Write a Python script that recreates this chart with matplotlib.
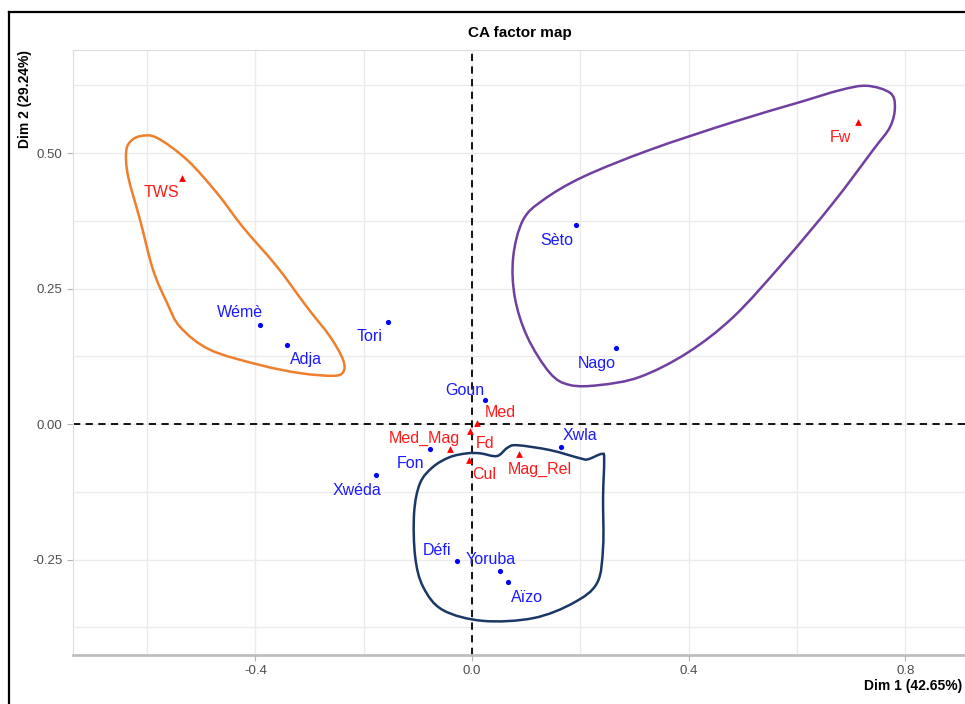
import matplotlib
matplotlib.use("Agg")
import matplotlib.pyplot as plt
import numpy as np
from matplotlib.path import Path
from matplotlib.patches import PathPatch
from matplotlib.lines import Line2D

plt.rcParams['font.family'] = ['Liberation Sans', 'DejaVu Sans']

# row points (blue)
row_names = ["Sèto", "Nago", "Wémè", "Adja", "Tori", "Goun", "Fon", "Xwéda", "Xwla", "Défi", "Yoruba", "Aïzo"]
row_x = [0.192, 0.266, -0.392, -0.342, -0.155, 0.024, -0.078, -0.177, 0.164, -0.028, 0.052, 0.066]
row_y = [0.367, 0.140, 0.183, 0.146, 0.188, 0.044, -0.046, -0.094, -0.042, -0.253, -0.271, -0.292]

# column points (red)
col_names = ["TWS", "Fw", "Med", "Fd", "Med_Mag", "Cul", "Mag_Rel"]
col_x = [-0.536, 0.713, 0.009, -0.004, -0.041, -0.005, 0.087]
col_y = [0.454, 0.557, 0.002, -0.013, -0.046, -0.066, -0.055]

# label offsets (pixels, right / down) as placed by the repel in the original
row_off = [(-19, 15), (-19, 15), (-20, -12), (19, 15), (-19, 14), (-20, -10),
           (-19, 15), (-19, 15), (19, -11), (-20, -11), (-10, -11), (19, 15)]
col_off = [(-20, 15), (-18, 15), (23, -10), (15, 12), (-25, -11), (15, 15), (21, 16)]

# group outlines
orange_x = [-0.613, -0.582, -0.526, -0.471, -0.423, -0.360, -0.305, -0.262, -0.238, -0.238, -0.257,
            -0.318, -0.392, -0.484, -0.539, -0.563, -0.589, -0.613, -0.635, -0.639, -0.632]
orange_y = [0.531, 0.528, 0.487, 0.426, 0.363, 0.290, 0.216, 0.161, 0.118, 0.096, 0.089,
            0.094, 0.109, 0.137, 0.179, 0.223, 0.284, 0.376, 0.456, 0.500, 0.520]
purple_x = [0.729, 0.772, 0.781, 0.772, 0.741, 0.667, 0.574, 0.482, 0.397, 0.310, 0.236, 0.181,
            0.144, 0.102, 0.079, 0.076, 0.094, 0.131, 0.205, 0.329, 0.482, 0.606, 0.680]
purple_y = [0.624, 0.611, 0.585, 0.548, 0.506, 0.408, 0.297, 0.197, 0.131, 0.087, 0.072, 0.072,
            0.094, 0.161, 0.234, 0.308, 0.376, 0.413, 0.456, 0.506, 0.557, 0.594, 0.616]
navy_x = [0.240, 0.214, 0.199, 0.144, 0.083, 0.065, 0.046, 0.015, -0.009, -0.041, -0.072, -0.096,
          -0.107, -0.105, -0.090, -0.054, 0.020, 0.113, 0.187, 0.231, 0.242, 0.242, 0.244]
navy_y = [-0.055, -0.065, -0.063, -0.048, -0.039, -0.044, -0.059, -0.054, -0.054, -0.061, -0.079, -0.109,
          -0.164, -0.245, -0.301, -0.343, -0.363, -0.358, -0.330, -0.293, -0.227, -0.135, -0.066]


def closed_curve(xs, ys):
    # catmull-rom through the outline points, drawn as cubic beziers
    P = np.column_stack([xs, ys])
    n = len(P)
    verts = [P[0]]
    codes = [Path.MOVETO]
    for i in range(n):
        p0, p1, p2, p3 = P[i - 1], P[i], P[(i + 1) % n], P[(i + 2) % n]
        verts += [p1 + (p2 - p0) / 6, p2 - (p3 - p1) / 6, p2]
        codes += [Path.CURVE4] * 3
    return Path(verts, codes)


fig = plt.figure(figsize=(9.65, 7.04), dpi=100)
ax = fig.add_axes([73 / 965, 49 / 704, 895 / 965, 605 / 704])

ax.set_xlim(-0.737, 0.916)
ax.set_ylim(-0.426, 0.690)
ax.set_xticks([-0.4, 0.0, 0.4, 0.8])
ax.set_xticklabels(["-0.4", "0.0", "0.4", "0.8"])
ax.set_xticks([-0.6, -0.2, 0.2, 0.6], minor=True)
ax.set_yticks([-0.25, 0.0, 0.25, 0.5])
ax.set_yticklabels(["-0.25", "0.00", "0.25", "0.50"])
ax.set_yticks([-0.375, -0.125, 0.125, 0.375, 0.625], minor=True)
ax.grid(True, which='both', color='#EBEBEB', lw=1.0)
ax.set_axisbelow(True)
ax.tick_params(which='major', length=4, color='#B3B3B3', labelcolor='#4D4D4D', labelsize=9.5)
ax.tick_params(which='minor', length=0)
for s in ['left', 'top', 'right']:
    ax.spines[s].set_color('#DDDDDD')
    ax.spines[s].set_linewidth(0.8)
ax.spines['bottom'].set_color('#BEBEBE')
ax.spines['bottom'].set_linewidth(2)

ax.axhline(0, color='black', ls=(0, (4, 3)), lw=1.3, zorder=2)
ax.axvline(0, color='black', ls=(0, (4, 3)), lw=1.3, zorder=2)

for xs, ys, c in [(orange_x, orange_y, '#EE7F2D'), (purple_x, purple_y, '#7040A0'), (navy_x, navy_y, '#1B3766')]:
    ax.add_patch(PathPatch(closed_curve(xs, ys), fill=False, edgecolor=c, lw=1.8, zorder=3))

ax.scatter(row_x, row_y, s=14, color='#0000FF', zorder=4, linewidths=0)
ax.scatter(col_x, col_y, s=24, marker='^', color='#FF0000', zorder=4, linewidths=0)

for name, x, y, (dx, dy) in zip(row_names, row_x, row_y, row_off):
    ax.annotate(name, (x, y), xytext=(dx, -dy), textcoords='offset pixels',
                ha='center', va='center', color='#1A1AFF', fontsize=11.5, zorder=5)
for name, x, y, (dx, dy) in zip(col_names, col_x, col_y, col_off):
    ax.annotate(name, (x, y), xytext=(dx, -dy), textcoords='offset pixels',
                ha='center', va='center', color='#FF1A1A', fontsize=11.5, zorder=5)

fig.text(520 / 965, 1 - 33 / 704, "CA factor map", ha='center', va='center', fontweight='bold', fontsize=11)
fig.text(962 / 965, 1 - 686 / 704, "Dim 1 (42.65%)", ha='right', va='center', fontweight='bold', fontsize=10)
fig.text(25 / 965, 1 - 50 / 704, "Dim 2 (29.24%)", ha='center', va='top', rotation=90,
         fontweight='bold', fontsize=10)

# screenshot frame
fig.add_artist(Line2D([9 / 965, 9 / 965], [0, 1 - 12 / 704], color='black', lw=1.6, transform=fig.transFigure))
fig.add_artist(Line2D([9 / 965, 1], [1 - 12 / 704, 1 - 12 / 704], color='black', lw=1.6, transform=fig.transFigure))

fig.savefig("out.png", dpi=100)
